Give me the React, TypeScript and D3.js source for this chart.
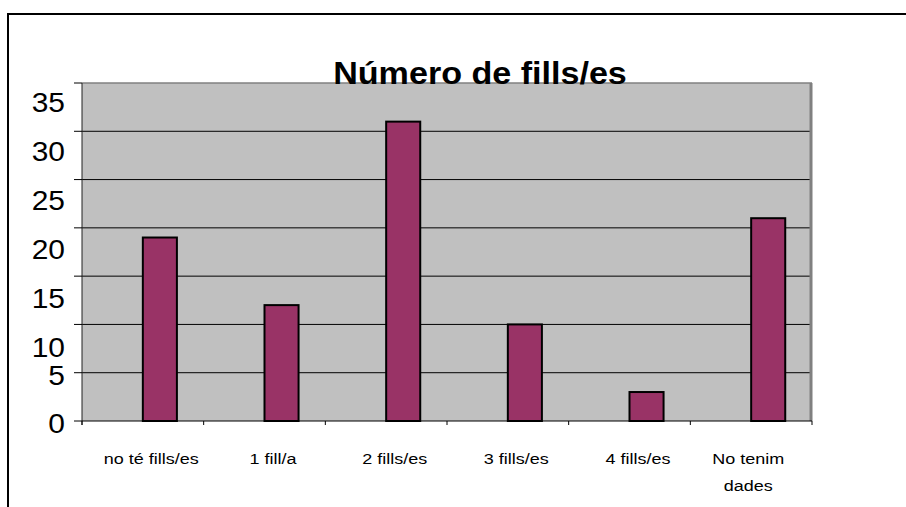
import React, { useMemo } from "react";
import * as d3 from "d3";

const title = "Número de fills/es";
const categories = ["no té fills/es", "1 fill/a", "2 fills/es", "3 fills/es", "4 fills/es", "No tenim dades"];
const values = [19, 12, 31, 10, 3, 21];
const yTicks = [0, 5, 10, 15, 20, 25, 30, 35];

const W = 906;
const H = 507;
const FONT = "'Liberation Sans', Arial, Helvetica, sans-serif";

function measure(text: string, size: number, sx: number) {
  const c = document.createElement("canvas").getContext("2d");
  if (!c) return text.length * size * 0.5 * sx;
  c.font = `${size}px ${FONT}`;
  return c.measureText(text).width * sx;
}

function wrap(text: string, maxW: number, size: number, sx: number): string[] {
  const words = text.split(" ");
  const lines: string[] = [];
  let cur = "";
  for (const w of words) {
    const t = cur ? cur + " " + w : w;
    if (cur && measure(t, size, sx) > maxW) {
      lines.push(cur);
      cur = w;
    } else cur = t;
  }
  if (cur) lines.push(cur);
  return lines;
}

export default function App() {
  const x = d3.scaleBand<string>().domain(categories).range([82, 812]).padding(0);
  const y = d3.scaleLinear().domain([0, 35]).range([421, 83]);
  // label placement for the upper tick labels (they drift below their gridlines in the reference)
  const upperLabelY = d3.scaleLinear().domain([10, 35]).range([357, 112]);
  const bw = x.bandwidth();
  const barW = bw * 0.28;
  const labelSize = 15;
  const labelSx = 1.2;

  const wrapped = useMemo(
    () => categories.map((c) => wrap(c, bw, labelSize, labelSx)),
    [bw]
  );

  const [x0, x1] = x.range();
  const [yBottom, yTop] = y.range();

  return (
    <svg width={W} height={H} style={{ position: "absolute", left: 0, top: 0, background: "#fff" }}>
      {/* outer frame (extends past the window on right/bottom) */}
      <rect x={8} y={14} width={1200} height={1200} fill="#fff" stroke="#000" strokeWidth={2} />

      {/* plot background */}
      <rect x={x0} y={yTop} width={x1 - x0} height={yBottom - yTop} fill="#c0c0c0" />

      {/* gridlines */}
      {yTicks
        .filter((t) => t > 0 && t < 35)
        .map((t) => (
          <line key={t} x1={x0} x2={x1} y1={y(t)} y2={y(t)} stroke="#000" strokeWidth={1} />
        ))}

      {/* plot border top/right */}
      <line x1={x0} x2={x1} y1={yTop} y2={yTop} stroke="#808080" strokeWidth={1.5} />
      <line x1={x1 - 1} x2={x1 - 1} y1={yTop} y2={yBottom} stroke="#808080" strokeWidth={3} />

      {/* bars */}
      {categories.map((c, i) => {
        const bx = (x(c) ?? 0) + bw / 2;
        return (
          <rect
            key={c}
            x={bx}
            y={y(values[i])}
            width={barW}
            height={y(0) - y(values[i])}
            fill="#993366"
            stroke="#000"
            strokeWidth={2}
          />
        );
      })}

      {/* y axis */}
      <line x1={x0} x2={x0} y1={yTop} y2={yBottom + 4} stroke="#222" strokeWidth={1} />
      {yTicks.map((t) => (
        <line key={"yt" + t} x1={x0 - 8} x2={x0} y1={y(t)} y2={y(t)} stroke="#000" strokeWidth={1} />
      ))}
      {yTicks.map((t) => {
        const by = t >= 10 ? upperLabelY(t) : y(t) + 12;
        return (
          <text
            key={"yl" + t}
            transform={`translate(65,${by}) scale(1.07,1)`}
            textAnchor="end"
            fontFamily={FONT}
            fontSize={28}
            fill="#000"
          >
            {t}
          </text>
        );
      })}

      {/* x axis */}
      <line x1={x0} x2={x1} y1={yBottom} y2={yBottom} stroke="#000" strokeWidth={1} />
      {[...categories.map((c) => x(c) ?? 0), x1].map((px, i) => (
        <line key={"xt" + i} x1={px} x2={px} y1={yBottom} y2={yBottom + 4} stroke="#000" strokeWidth={1} />
      ))}
      {categories.map((c, i) => {
        const lines = wrapped[i];
        const cx = (x(c) ?? 0) + bw / 2 + (lines.length > 1 ? -3 : 8.5);
        return lines.map((ln, j) => (
          <text
            key={c + j}
            transform={`translate(${cx},${464 + j * 27}) scale(${labelSx},1)`}
            textAnchor="middle"
            fontFamily={FONT}
            fontSize={labelSize}
            fill="#000"
          >
            {ln}
          </text>
        ));
      })}

      {/* title */}
      <text
        transform={`translate(480,83.5) scale(1.1,1)`}
        textAnchor="middle"
        fontFamily={FONT}
        fontSize={31}
        fontWeight="bold"
        fill="#000"
      >
        {title}
      </text>
    </svg>
  );
}
